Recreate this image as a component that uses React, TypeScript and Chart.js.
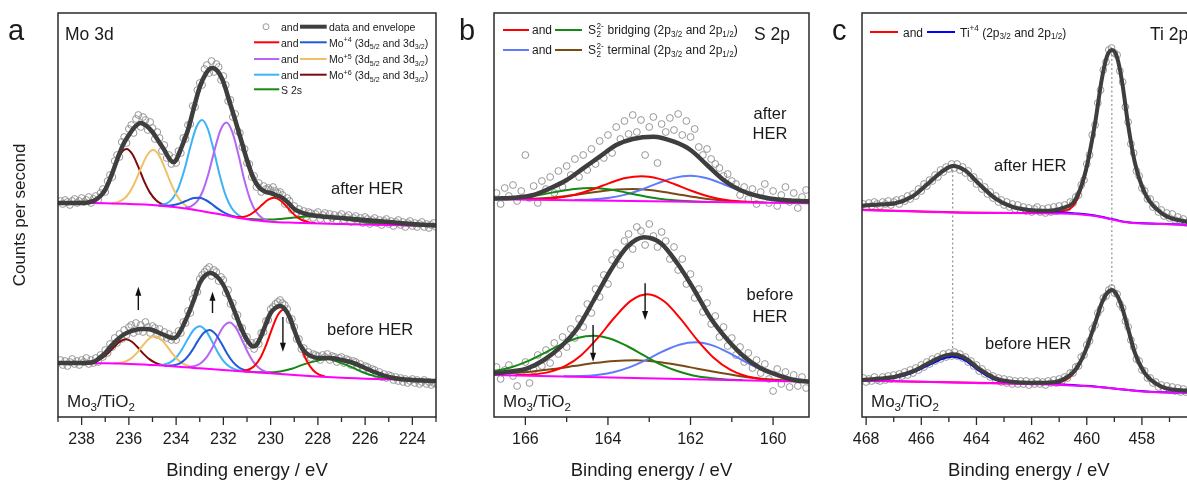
import React, { useEffect, useRef } from "react";
import { Chart, registerables } from "chart.js";

Chart.register(...registerables);

const FONT = '"Liberation Sans", Arial, Helvetica, sans-serif';
const INK = "#1b1b1b";
const ENV = "#3e3e3e";
const BG = "#ff00ff";
const DOT = "#8c8c8c";

/* ================= Panel a : Mo 3d ================= */
const aXMin = 223;
const aXMax = 239;
const aTicks = [239, 238, 237, 236, 235, 234, 233, 232, 231, 230, 229, 228, 227, 226, 225, 224, 223];
const aTickLabels = [238, 236, 234, 232, 230, 228, 226, 224];

const aDataStart = 238.9;
const aDataStep = 0.1;
const aAfterData = [
  216, 213, 217, 215, 212, 216, 218, 214, 216, 219,
  215, 217, 220, 214, 218, 221, 217, 224, 228, 225,
  236, 242, 240, 256, 262, 260, 275, 280, 274, 288,
  292, 284, 298, 302, 290, 300, 297, 287, 295, 289,
  278, 285, 279, 266, 272, 259, 262, 253, 259, 254,
  266, 264, 279, 278, 292, 293, 311, 310, 327, 334,
  332, 348, 352, 344, 356, 345, 353, 350, 337, 341,
  332, 316, 317, 300, 303, 286, 284, 270, 268, 254,
  253, 240, 241, 230, 234, 225, 231, 228, 229, 227,
  230, 226, 224, 225, 222, 213, 219, 216, 207, 211,
  204, 208, 201, 206, 200, 205, 204, 199, 203, 205,
  198, 202, 204, 197, 203, 199, 202, 196, 201, 203,
  197, 200, 202, 195, 199, 201, 196, 199, 194, 200,
  198, 193, 197, 199, 194, 197, 192, 196, 198, 193,
  196, 191, 195, 197, 192, 195, 190, 194, 196, 191,
  194, 190, 193, 195, 190, 193, 189, 192, 194, 190,
];
const aBeforeData = [
  57, 52, 56, 51, 55, 58, 53, 56, 52, 57,
  55, 59, 53, 57, 54, 59, 55, 62, 60, 67,
  64, 73, 70, 79, 74, 83, 78, 87, 82, 90,
  92, 84, 94, 86, 92, 85, 95, 90, 84, 91,
  89, 82, 88, 80, 85, 79, 83, 77, 81, 77,
  86, 84, 95, 94, 106, 104, 118, 124, 125, 138,
  142, 145, 148, 150, 141, 147, 145, 136, 140, 137,
  124, 127, 113, 114, 101, 102, 90, 89, 79, 80,
  72, 74, 68, 75, 73, 84, 85, 96, 97, 108,
  110, 113, 115, 117, 114, 112, 108, 97, 98, 90,
  78, 78, 68, 69, 62, 65, 59, 63, 62, 61,
  57, 62, 60, 63, 57, 61, 60, 55, 59, 60,
  54, 58, 57, 52, 56, 55, 50, 53, 48, 51,
  50, 45, 48, 47, 42, 45, 40, 43, 39, 42,
  41, 37, 40, 36, 39, 35, 38, 34, 36, 38,
  34, 37, 33, 35, 37, 33, 35, 32, 34, 33,
];

const aAfterEnvelope = [
  [239, 214], [238.5, 214], [238, 214], [237.5, 216], [237.2, 221], [237, 227], [236.75, 241],
  [236.5, 257], [236.25, 272], [236, 282], [235.75, 290], [235.5, 294], [235.25, 291], [235, 285],
  [234.75, 276], [234.5, 267], [234.25, 257], [234.1, 255], [234, 257], [233.75, 271], [233.5, 287],
  [233.25, 309], [233, 330], [232.75, 343], [232.5, 349], [232.25, 346], [232, 335], [231.75, 316],
  [231.5, 297], [231.25, 277], [231, 257], [230.75, 240], [230.5, 230], [230.25, 225.5], [230, 224],
  [229.75, 221.5], [229.5, 219], [229.25, 214], [229, 208], [228.75, 205], [228.5, 203], [228, 201],
  [227, 199], [226, 197], [225, 195], [224, 193], [223, 191.5],
];
const aBeforeEnvelope = [
  [239, 54], [238, 54], [237.5, 55], [237.25, 59], [237, 64], [236.75, 71], [236.5, 77], [236.25, 82],
  [236, 85], [235.75, 87], [235.5, 88], [235.25, 88], [235, 87], [234.75, 84.5], [234.5, 82],
  [234.25, 79.5], [234.1, 79], [233.95, 81], [233.75, 89], [233.5, 102], [233.25, 117], [233, 134],
  [232.75, 142], [232.55, 144], [232.25, 140], [232, 132], [231.75, 119], [231.5, 104], [231.25, 89],
  [231, 77], [230.75, 70.5], [230.6, 72], [230.4, 81], [230.2, 93], [230, 104], [229.8, 109],
  [229.6, 111], [229.4, 108], [229.2, 100], [229, 87], [228.75, 72], [228.5, 64], [228.25, 60.5],
  [228, 59], [227.5, 59], [227, 57], [226.5, 54], [226, 49], [225.5, 44], [225, 40], [224.5, 38],
  [224, 37], [223, 36],
];
const aAfterBackground = [
  [239, 214.3], [237, 213.7], [235, 212], [234, 209.7], [233, 206.3], [232, 202], [231, 197.7],
  [230, 195.3], [229, 194.3], [227, 193], [225, 192], [223, 191],
];
const aBeforeBackground = [
  [239, 53.7], [237, 53.7], [235, 52], [233, 48.7], [231, 45.3], [229, 42], [227, 39.3], [225, 37.7], [223, 36.3],
];

const aPeakStep = 0.25;
const aS2sStep = 0.5;
// after HER fitted components: first energy, then values every step
const aAfterMo4d52Start = 231.6;
const aAfterMo4d52 = [200.5, 200.0, 200.3, 202.6, 206.9, 212.5, 217.3, 219.2, 216.8, 211.1, 204.6, 199.4, 196.2, 194.6, 193.9];
const aAfterMo4d32Start = 234.75;
const aAfterMo4d32 = [211.5, 211.3, 211.5, 212.5, 214.4, 216.9, 219.0, 219.3, 217.0, 213.1, 208.6, 204.8, 202.1, 200.3, 198.9];
const aAfterMo5d52Start = 233.62;
const aAfterMo5d52 = [209.3, 210.7, 215.3, 226.0, 244.2, 267.2, 287.0, 294.4, 284.9, 262.9, 237.7, 217.7, 205.4, 199.3, 196.5];
const aAfterMo5d32Start = 236.72;
const aAfterMo5d32 = [213.7, 214.8, 217.9, 224.6, 235.8, 249.8, 262.0, 266.9, 261.4, 248.4, 233.6, 221.6, 213.9, 209.7, 207.5];
const aAfterMo6d52Start = 234.65;
const aAfterMo6d52 = [212.1, 213.6, 218.5, 229.2, 247.2, 269.9, 289.5, 296.9, 287.5, 265.9, 241.3, 221.4, 209.0, 202.4, 199.2];
const aAfterMo6d32Start = 237.85;
const aAfterMo6d32 = [214.5, 215.7, 218.9, 225.7, 236.9, 250.9, 263.1, 267.9, 262.7, 250.1, 235.7, 224.1, 216.8, 212.9, 211.0];
const aAfterS2sStart = 231;
const aAfterS2s = [198.1, 197.5, 197.4, 198.3, 199.4, 200.5, 200.7, 199.8, 198.1, 196.3, 194.6, 193.3, 192.4, 191.9, 191.6, 191.3, 191.0];
// before HER fitted components
const aBeforeMo4d52Start = 231.2;
const aBeforeMo4d52 = [46.2, 47.3, 50.8, 58.5, 71.4, 87.7, 101.8, 107.2, 100.9, 86.0, 68.9, 55.2, 46.7, 42.4, 40.6];
const aBeforeMo4d32Start = 234.34;
const aBeforeMo4d32 = [51.3, 51.8, 53.7, 58.2, 65.9, 75.6, 84.0, 87.0, 83.1, 73.9, 63.3, 54.8, 49.5, 46.8, 45.4];
const aBeforeMo5d52Start = 233.49;
const aBeforeMo5d52 = [50.0, 50.7, 53.2, 58.8, 68.3, 80.2, 90.6, 94.6, 89.8, 78.5, 65.7, 55.4, 49.0, 45.6, 44.1];
const aBeforeMo5d32Start = 236.64;
const aBeforeMo5d32 = [53.5, 54.0, 55.5, 58.9, 64.7, 72.1, 78.5, 80.8, 77.8, 70.8, 62.9, 56.5, 52.5, 50.3, 49.2];
const aBeforeMo6d52Start = 234.75;
const aBeforeMo6d52 = [52.0, 52.6, 54.7, 59.5, 67.8, 78.2, 87.3, 90.7, 86.5, 76.6, 65.3, 56.2, 50.5, 47.6, 46.1];
const aBeforeMo6d32Start = 237.87;
const aBeforeMo6d32 = [53.9, 54.5, 56.0, 59.1, 64.0, 70.3, 75.7, 77.8, 75.3, 69.5, 62.9, 57.6, 54.1, 52.1, 51.1];
const aBeforeS2sStart = 231.1;
const aBeforeS2s = [45.5, 44.8, 44.7, 45.6, 48.3, 52.6, 55.9, 58.1, 54.6, 50.2, 44.8, 40.9, 38.7, 37.7, 37.3, 36.7, 36.4];

// arrows: energy, tail value, head value
const aArrows = [[235.6, 107, 130.3], [232.46, 104, 125.3], [229.48, 100, 65.3]];

/* ================= Panel b : S 2p ================= */
const bXMin = 159.13;
const bXMax = 166.76;
const bTicks = [166, 165, 164, 163, 162, 161, 160];
const bTickLabels = [166, 164, 162, 160];

const bDataStart = 166.7;
const bDataStep = 0.1;
const bAfterData = [
  224, 213, 229, 221, 232, 216, 226, 262, 219, 231,
  214, 236, 228, 240, 224, 246, 230, 251, 242, 258,
  240, 262, 247, 268, 253, 276, 259, 282, 264, 290,
  278, 296, 283, 302, 285, 297, 262, 290, 300, 254,
  293, 285, 299, 287, 303, 282, 296, 280, 288, 270,
  262, 268, 258, 253, 249, 241, 243, 236, 233, 222,
  230, 218, 228, 213, 225, 233, 214, 226, 211, 222,
  230, 215, 224, 209, 220, 227,
];
const bBeforeData = [
  50, 38, 47, 52, 41, 31, 45, 55, 34, 47,
  62, 51, 67, 54, 74, 63, 80, 70, 88, 79,
  98, 90, 113, 104, 128, 120, 142, 133, 157, 164,
  152, 176, 183, 168, 190, 186, 172, 193, 181, 170,
  185, 176, 158, 170, 147, 158, 133, 143, 119, 128,
  105, 114, 93, 101, 80, 90, 71, 79, 62, 70,
  55, 64, 49, 57, 44, 53, 38, 26, 48, 33,
  45, 30, 42, 31, 40, 29,
];
const bAfterEnvelope = [
  [166.76, 218.5], [166.2, 219.6], [165.8, 222], [165.4, 228.7], [165.0, 237], [164.6, 248.7],
  [164.2, 260.3], [163.8, 272], [163.4, 278], [162.9, 280.3], [162.4, 275.3], [162.0, 267],
  [161.6, 252], [161.2, 237], [160.8, 227], [160.3, 220.3], [159.75, 217], [159.35, 216], [159.13, 215.7],
];
const bBeforeEnvelope = [
  [166.76, 43.7], [166.35, 45.5], [165.95, 48.7], [165.55, 57], [165.14, 70.3], [164.74, 88.7],
  [164.34, 117], [163.93, 147], [163.53, 170.3], [163.13, 179.7], [162.72, 173.7], [162.32, 153.7],
  [161.91, 127], [161.51, 98.7], [161.1, 77], [160.7, 60.3], [160.3, 48.7], [159.89, 42],
  [159.49, 37], [159.13, 35.3],
];
const bAfterBackground = [[166.76, 217.7], [159.13, 213.7]];
const bBeforeBackground = [[166.76, 42], [159.13, 35.3]];

const bPeakStep = 0.4;
const bWideStep = 0.5;
const bAfterBridging32Start = 165.98;
const bAfterBridging32 = [217.6, 218.0, 219.4, 222.5, 227.5, 233.6, 238.9, 240.8, 238.4, 232.7, 226.2, 220.8, 217.3, 215.5, 214.7];
const bAfterBridging12Start = 167.2;
const bAfterBridging12 = [218.0, 218.2, 218.8, 220.2, 222.6, 225.6, 228.1, 229.0, 227.7, 224.8, 221.4, 218.5, 216.7, 215.7, 215.1];
const bAfterTerminal32Start = 164.8;
const bAfterTerminal32 = [217.0, 217.5, 218.9, 222.1, 227.3, 233.6, 239.1, 241.2, 238.7, 232.8, 226.0, 220.4, 216.8, 215.0, 214.0];
const bAfterTerminal12Start = 166.6;
const bAfterTerminal12 = [217.8, 217.9, 218.3, 219.3, 221.0, 223.2, 225.6, 227.4, 228.0, 227.0, 224.8, 222.0, 219.3, 217.2, 215.8, 215.0, 214.5];
const bBeforeBridging32Start = 166.24;
const bBeforeBridging32 = [42.0, 42.5, 44.9, 50.8, 62.1, 79.3, 99.5, 116.4, 122.7, 115.7, 98.1, 77.2, 59.3, 47.3, 40.7, 37.6, 36.3];
const bBeforeBridging12Start = 167.14;
const bBeforeBridging12 = [44.0, 45.9, 49.7, 55.8, 63.9, 72.4, 79.0, 81.3, 78.3, 71.0, 61.8, 52.9, 46.2, 41.6, 39.1, 37.6, 36.9];
const bBeforeTerminal32Start = 165.07;
const bBeforeTerminal32 = [40.8, 41.0, 42.1, 44.8, 49.9, 57.2, 65.6, 72.3, 74.7, 71.6, 64.2, 55.1, 47.1, 41.3, 37.9, 36.1];
const bBeforeTerminal12Start = 167.33;
const bBeforeTerminal12 = [43.0, 43.1, 43.9, 45.5, 47.9, 50.9, 54.0, 56.1, 56.7, 55.2, 52.2, 48.3, 44.4, 41.1, 38.6, 37.0, 36.0];

const bArrows = [[163.1, 133.7, 97], [164.36, 92, 55.3]];

/* ================= Panel c : Ti 2p ================= */
const cXMin = 456.05;
const cXMax = 468.15;
const cTicks = [468, 467, 466, 465, 464, 463, 462, 461, 460, 459, 458, 457];
const cTickLabels = [468, 466, 464, 462, 460, 458];

const cDataStart = 468.1;
const cDataStep = 0.1;
const cAfterData = [
  213, 210, 214, 211, 215, 213, 211, 215, 213, 216,
  212, 215, 217, 213, 218, 216, 221, 218, 223, 221,
  228, 226, 233, 231, 237, 236, 242, 240, 247, 245,
  250, 248, 253, 249, 253, 247, 250, 244, 246, 239,
  240, 233, 235, 228, 230, 223, 225, 219, 221, 215,
  217, 212, 215, 210, 213, 208, 212, 207, 210, 206,
  209, 205, 208, 210, 205, 208, 204, 209, 205, 210,
  206, 211, 207, 212, 209, 215, 214, 220, 222, 232,
  237, 253, 262, 282, 292, 314, 327, 347, 355, 367,
  369, 364, 362, 346, 335, 310, 295, 273, 264, 246,
  241, 229, 226, 218, 218, 210, 212, 205, 207, 201,
  204, 199, 203, 197, 200, 196, 198, 194,
];
const cBeforeData = [
  39, 35, 38, 36, 40, 37, 36, 40, 37, 41,
  38, 42, 39, 43, 41, 45, 42, 47, 44, 49,
  47, 52, 50, 55, 53, 58, 56, 60, 58, 63,
  60, 64, 61, 65, 61, 63, 59, 60, 55, 56,
  51, 52, 46, 48, 43, 44, 40, 41, 37, 39,
  35, 38, 34, 37, 33, 36, 33, 36, 33, 36,
  32, 35, 33, 36, 33, 35, 32, 36, 34, 37,
  34, 38, 36, 40, 39, 44, 44, 50, 51, 60,
  62, 72, 76, 88, 92, 104, 108, 119, 121, 127,
  129, 124, 123, 113, 109, 96, 90, 77, 70, 58,
  56, 47, 46, 39, 39, 34, 35, 30, 32, 28,
  31, 27, 30, 26, 29, 25, 28, 25,
];
const cAfterEnvelope = [
  [468.15, 211.3], [467.5, 212.5], [466.95, 213.7], [466.34, 220.3], [465.74, 233.7], [465.25, 245.3],
  [464.86, 251], [464.4, 246.3], [463.93, 233.7], [463.32, 218.7], [462.72, 210.3], [462.11, 207],
  [461.51, 206.3], [460.9, 208.7], [460.42, 217], [460.06, 243.7], [459.7, 293.7], [459.46, 337],
  [459.27, 360.3], [459.09, 367], [458.91, 360.3], [458.73, 337], [458.49, 290.3], [458.25, 253.7],
  [457.89, 223.7], [457.28, 203.7], [456.38, 195.3], [456.05, 194.5],
];
const cAfterBackground = [
  [468.15, 207], [464.5, 204.3], [460.9, 203.5], [460.4, 203], [459.7, 201], [459.0, 197], [458.5, 194.5], [457.3, 193], [456.05, 191.8],
];
const cAfterTi2p12 = [
  [468.15, 211], [467.5, 212.2], [466.95, 213.4], [466.34, 220], [465.74, 233.3], [465.25, 245], [464.86, 250.6],
  [464.4, 246], [463.93, 233.3], [463.32, 218.3], [462.72, 209.8], [462.11, 206.3], [461.51, 205.2], [460.9, 204.5],
  [460.4, 203.6], [459.7, 201.5], [459.0, 197.4], [458.5, 194.8], [457.3, 193.2], [456.05, 191.9],
];
const cAfterTi2p32 = [
  [468.15, 207.2], [464.5, 204.5], [462.5, 204], [461.51, 204.3], [460.9, 205.8], [460.42, 213.8], [460.06, 241],
  [459.7, 292], [459.46, 336], [459.27, 359.5], [459.09, 366.3], [458.91, 359.5], [458.73, 336.3], [458.49, 289.8],
  [458.25, 253.2], [457.89, 223.3], [457.28, 203.3], [456.38, 195], [456.05, 194.2],
];
const cBeforeEnvelope = [
  [468.15, 37], [467.5, 38.5], [466.95, 40.3], [466.34, 45.3], [465.74, 53.7], [465.25, 60.3], [464.86, 62.7],
  [464.4, 58.7], [463.93, 48.7], [463.32, 38.7], [462.72, 35.3], [462.11, 34.3], [461.51, 34.3], [460.9, 37],
  [460.42, 47], [460.06, 65.3], [459.7, 93.7], [459.46, 113.7], [459.27, 123.7], [459.09, 127], [458.91, 122],
  [458.73, 110.3], [458.49, 87], [458.25, 63.7], [457.89, 43.7], [457.28, 30.3], [456.38, 26.3], [456.05, 25.8],
];
const cBeforeBackground = [
  [468.15, 36.3], [464.5, 34.3], [460.9, 32], [459.7, 30.3], [458.73, 27.7], [457.89, 25.3], [456.05, 24.2],
];
const cBeforeTi2p12 = [
  [468.15, 36.5], [467.5, 37.6], [466.95, 39.3], [466.34, 44], [465.74, 51.7], [465.25, 58], [464.86, 60.3],
  [464.4, 56.5], [463.93, 46.7], [463.32, 37.2], [462.72, 34.5], [462.11, 33.9], [461.51, 33.4], [460.9, 32.6],
  [460.3, 31.6], [459.7, 30.6], [459.1, 28.8], [458.5, 27.1], [457.5, 25.1], [456.05, 24.3],
];
const cBeforeTi2p32 = [
  [468.15, 36.4], [464.5, 34.4], [462.5, 33.6], [461.51, 33.4], [460.9, 35.3], [460.42, 45.5], [460.06, 64.3],
  [459.7, 93], [459.46, 113], [459.27, 123], [459.09, 126.3], [458.91, 121.3], [458.73, 109.6], [458.49, 86.3],
  [458.25, 63], [457.89, 43.2], [457.28, 29.8], [456.38, 25.8], [456.05, 25.3],
];
const cGuideEnergy = [464.86, 459.09];
const cGuideTop = [251, 367];
const cGuideBottom = [62.7, 127];

/* ================= helpers ================= */
type P = { x: number; y: number };
const seq = (start: number, step: number, ys: number[]): P[] =>
  ys.map((y, i) => ({ x: Math.round((start - i * step) * 1000) / 1000, y }));
const pairs = (a: number[][]): P[] => a.map(([x, y]) => ({ x, y }));

const lineDs = (data: P[], color: string, width: number, order: number, extra: any = {}) => ({
  data,
  borderColor: color,
  backgroundColor: color,
  borderWidth: width,
  showLine: true,
  pointRadius: 0,
  pointHoverRadius: 0,
  pointHitRadius: 0,
  cubicInterpolationMode: "monotone",
  fill: false,
  order,
  ...extra,
});
const dotDs = (data: P[]) => ({
  data,
  showLine: false,
  pointRadius: 3.4,
  pointHoverRadius: 3.4,
  pointBorderWidth: 0.9,
  pointBorderColor: DOT,
  pointBackgroundColor: "rgba(255,255,255,0)",
  order: 9,
});

type Seg = { t: string; k?: "sub" | "sup" | "stack"; b?: string };

function rich(ctx: CanvasRenderingContext2D, segs: Seg[], x: number, y: number, size: number) {
  ctx.save();
  ctx.fillStyle = INK;
  ctx.textAlign = "left";
  ctx.textBaseline = "alphabetic";
  let cx = x;
  const small = size * 0.68;
  for (const s of segs) {
    if (!s.k) {
      ctx.font = `${size}px ${FONT}`;
      ctx.fillText(s.t, cx, y);
      cx += ctx.measureText(s.t).width;
    } else {
      ctx.font = `${small}px ${FONT}`;
      if (s.k === "sub") {
        ctx.fillText(s.t, cx, y + size * 0.24);
        cx += ctx.measureText(s.t).width;
      } else if (s.k === "sup") {
        ctx.fillText(s.t, cx, y - size * 0.42);
        cx += ctx.measureText(s.t).width;
      } else {
        ctx.fillText(s.t, cx + 0.5, y - size * 0.42);
        ctx.fillText(s.b || "", cx + 0.5, y + size * 0.24);
        cx += Math.max(ctx.measureText(s.t).width, ctx.measureText(s.b || "").width) + 1;
      }
    }
  }
  ctx.restore();
}
const txt = (ctx: CanvasRenderingContext2D, s: string, x: number, y: number, size: number, align: CanvasTextAlign = "left") =>
  rich(ctx, [{ t: s }], align === "center" ? x - (ctx.font = `${size}px ${FONT}`, ctx.measureText(s).width / 2) : x, y, size);

function swatch(ctx: CanvasRenderingContext2D, x0: number, x1: number, y: number, color: string, w = 2) {
  ctx.save();
  ctx.strokeStyle = color;
  ctx.lineWidth = w;
  ctx.beginPath();
  ctx.moveTo(x0, y);
  ctx.lineTo(x1, y);
  ctx.stroke();
  ctx.restore();
}

function frameAndTicks(chart: any, ticks: number[], majors: number[]) {
  const { ctx, chartArea } = chart;
  const { left, right, top, bottom } = chartArea;
  const xs = chart.scales.x;
  ctx.save();
  ctx.strokeStyle = "#2a2a2a";
  ctx.lineWidth = 1.5;
  ctx.strokeRect(left, top, right - left, bottom - top);
  ctx.lineWidth = 1.3;
  for (const v of ticks) {
    const px = xs.getPixelForValue(v);
    const len = majors.includes(v) ? 8 : 5;
    ctx.beginPath();
    ctx.moveTo(px, bottom);
    ctx.lineTo(px, bottom + len);
    ctx.stroke();
  }
  ctx.restore();
}

function drawArrows(chart: any, list: number[][]) {
  const { ctx } = chart;
  const xs = chart.scales.x;
  const ys = chart.scales.y;
  ctx.save();
  ctx.strokeStyle = "#111";
  ctx.fillStyle = "#111";
  ctx.lineWidth = 1.4;
  for (const [e, v0, v1] of list) {
    const x = xs.getPixelForValue(e);
    const y0 = ys.getPixelForValue(v0);
    const y1 = ys.getPixelForValue(v1);
    const dir = y1 > y0 ? 1 : -1;
    ctx.beginPath();
    ctx.moveTo(x, y0);
    ctx.lineTo(x, y1 - dir * 6);
    ctx.stroke();
    ctx.beginPath();
    ctx.moveTo(x, y1);
    ctx.lineTo(x - 3, y1 - dir * 9);
    ctx.lineTo(x + 3, y1 - dir * 9);
    ctx.closePath();
    ctx.fill();
  }
  ctx.restore();
}

function xScale(min: number, max: number, ticks: number[], labels: number[]) {
  return {
    type: "linear",
    min,
    max,
    reverse: true,
    afterBuildTicks: (s: any) => {
      s.ticks = ticks.map((v) => ({ value: v }));
    },
    afterFit: (s: any) => {
      s.height = 64;
    },
    grid: { display: false, drawTicks: false },
    border: { display: false },
    ticks: {
      autoSkip: false,
      maxRotation: 0,
      minRotation: 0,
      padding: 12.5,
      color: INK,
      font: { family: FONT, size: 16 },
      callback: (v: number) => (labels.includes(v) ? String(v) : ""),
    },
    title: {
      display: true,
      text: "Binding energy / eV",
      color: INK,
      font: { family: FONT, size: 18.5 },
      padding: { top: 0, bottom: -1 },
    },
  };
}

function options(xs: any, ys: any, padding: any) {
  return {
    animation: false,
    responsive: false,
    devicePixelRatio: 1,
    events: [],
    layout: { padding },
    plugins: { legend: { display: false }, tooltip: { enabled: false } },
    scales: { x: xs, y: ys },
  };
}

const hiddenY = { display: false, min: 0, max: 404 };
const moTi: Seg[] = [{ t: "Mo" }, { t: "3", k: "sub" }, { t: "/TiO" }, { t: "2", k: "sub" }];

/* ================= chart configs ================= */
const COL = {
  red: "#ff0000",
  blue: "#1f5bd8",
  purple: "#b566f3",
  yellow: "#efc066",
  sky: "#3db3f7",
  maroon: "#7e0b0b",
  green: "#148a14",
  bBlue: "#5f7cfb",
  brown: "#7a4a14",
  tiBlue: "#0000ff",
};

function configA() {
  const datasets = [
    lineDs(pairs(aAfterEnvelope), ENV, 4.5, 0),
    lineDs(pairs(aBeforeEnvelope), ENV, 4.5, 0),
    lineDs(pairs(aAfterBackground), BG, 2, 1),
    lineDs(pairs(aBeforeBackground), BG, 2, 1),
    lineDs(seq(aAfterMo4d52Start, aPeakStep, aAfterMo4d52), COL.red, 2, 2),
    lineDs(seq(aAfterMo4d32Start, aPeakStep, aAfterMo4d32), COL.blue, 2, 2),
    lineDs(seq(aAfterMo5d52Start, aPeakStep, aAfterMo5d52), COL.purple, 2, 2),
    lineDs(seq(aAfterMo5d32Start, aPeakStep, aAfterMo5d32), COL.yellow, 2, 2),
    lineDs(seq(aAfterMo6d52Start, aPeakStep, aAfterMo6d52), COL.sky, 2, 2),
    lineDs(seq(aAfterMo6d32Start, aPeakStep, aAfterMo6d32), COL.maroon, 2, 2),
    lineDs(seq(aAfterS2sStart, aS2sStep, aAfterS2s), COL.green, 2, 2),
    lineDs(seq(aBeforeMo4d52Start, aPeakStep, aBeforeMo4d52), COL.red, 2, 2),
    lineDs(seq(aBeforeMo4d32Start, aPeakStep, aBeforeMo4d32), COL.blue, 2, 2),
    lineDs(seq(aBeforeMo5d52Start, aPeakStep, aBeforeMo5d52), COL.purple, 2, 2),
    lineDs(seq(aBeforeMo5d32Start, aPeakStep, aBeforeMo5d32), COL.yellow, 2, 2),
    lineDs(seq(aBeforeMo6d52Start, aPeakStep, aBeforeMo6d52), COL.sky, 2, 2),
    lineDs(seq(aBeforeMo6d32Start, aPeakStep, aBeforeMo6d32), COL.maroon, 2, 2),
    lineDs(seq(aBeforeS2sStart, aS2sStep, aBeforeS2s), COL.green, 2, 2),
    dotDs(seq(aDataStart, aDataStep, aAfterData)),
    dotDs(seq(aDataStart, aDataStep, aBeforeData)),
  ];
  const yA = {
    min: 0,
    max: 404,
    afterFit: (s: any) => {
      s.width = 58;
    },
    grid: { display: false, drawTicks: false },
    border: { display: false },
    ticks: { display: false },
    title: {
      display: true,
      text: "Counts per second",
      color: INK,
      font: { family: FONT, size: 17 },
      padding: { top: 10, bottom: 0 },
    },
  };
  const plugin = {
    id: "decorA",
    afterDraw(chart: any) {
      const ctx = chart.ctx as CanvasRenderingContext2D;
      frameAndTicks(chart, aTicks, aTickLabels);
      drawArrows(chart, aArrows);
      txt(ctx, "a", 8, 40, 29);
      txt(ctx, "Mo 3d", 65, 40, 17.5);
      txt(ctx, "after HER", 331, 193.5, 16.5);
      txt(ctx, "before HER", 327, 335, 16.5);
      rich(ctx, moTi, 67, 406.5, 17);
      const fs = 10.5;
      // legend
      ctx.save();
      ctx.strokeStyle = DOT;
      ctx.lineWidth = 0.9;
      ctx.beginPath();
      ctx.arc(266, 26.7, 3, 0, Math.PI * 2);
      ctx.stroke();
      ctx.restore();
      const rows: [number, number, string, string, Seg[]][] = [
        [42.3, 46.7, COL.red, COL.blue, [{ t: "Mo" }, { t: "+4", k: "sup" }, { t: " (3d" }, { t: "5/2", k: "sub" }, { t: " and 3d" }, { t: "3/2", k: "sub" }, { t: ")" }]],
        [59, 63.3, COL.purple, COL.yellow, [{ t: "Mo" }, { t: "+5", k: "sup" }, { t: " (3d" }, { t: "5/2", k: "sub" }, { t: " and 3d" }, { t: "3/2", k: "sub" }, { t: ")" }]],
        [74.7, 79, COL.sky, COL.maroon, [{ t: "Mo" }, { t: "+6", k: "sup" }, { t: " (3d" }, { t: "5/2", k: "sub" }, { t: " and 3d" }, { t: "3/2", k: "sub" }, { t: ")" }]],
      ];
      txt(ctx, "and", 281, 30.7, fs);
      swatch(ctx, 300, 326.7, 26.7, ENV, 4);
      txt(ctx, "data and envelope", 329, 30.7, fs);
      for (const [ly, by, c1, c2, segs] of rows) {
        swatch(ctx, 254, 279.3, ly, c1, 2);
        txt(ctx, "and", 281, by, fs);
        swatch(ctx, 300, 326.7, ly, c2, 2);
        rich(ctx, segs, 329, by, fs);
      }
      swatch(ctx, 254, 279.3, 89.3, COL.green, 2);
      txt(ctx, "S 2s", 281, 94, fs);
    },
  };
  return {
    type: "scatter",
    data: { datasets },
    options: options(xScale(aXMin, aXMax, aTicks, aTickLabels), yA, { left: 0, right: 751, top: 13, bottom: 0 }),
    plugins: [plugin],
  };
}

function configB() {
  const datasets = [
    lineDs(pairs(bAfterEnvelope), ENV, 4.5, 0),
    lineDs(pairs(bBeforeEnvelope), ENV, 4.5, 0),
    lineDs(pairs(bAfterBackground), BG, 2, 1),
    lineDs(pairs(bBeforeBackground), BG, 2, 1),
    lineDs(seq(bAfterBridging32Start, bPeakStep, bAfterBridging32), COL.red, 2, 2),
    lineDs(seq(bAfterBridging12Start, bPeakStep, bAfterBridging12), COL.green, 2, 2),
    lineDs(seq(bAfterTerminal32Start, bPeakStep, bAfterTerminal32), COL.bBlue, 2, 2),
    lineDs(seq(bAfterTerminal12Start, bPeakStep, bAfterTerminal12), COL.brown, 2, 2),
    lineDs(seq(bBeforeBridging32Start, bPeakStep, bBeforeBridging32), COL.red, 2, 2),
    lineDs(seq(bBeforeBridging12Start, bPeakStep, bBeforeBridging12), COL.green, 2, 2),
    lineDs(seq(bBeforeTerminal32Start, bPeakStep, bBeforeTerminal32), COL.bBlue, 2, 2),
    lineDs(seq(bBeforeTerminal12Start, bWideStep, bBeforeTerminal12), COL.brown, 2, 2),
    dotDs(seq(bDataStart, bDataStep, bAfterData)),
    dotDs(seq(bDataStart, bDataStep, bBeforeData)),
  ];
  const plugin = {
    id: "decorB",
    afterDraw(chart: any) {
      const ctx = chart.ctx as CanvasRenderingContext2D;
      frameAndTicks(chart, bTicks, bTickLabels);
      drawArrows(chart, bArrows);
      txt(ctx, "b", 459, 40, 29);
      txt(ctx, "S 2p", 754, 40, 17.5);
      txt(ctx, "after", 770, 118.5, 16.5, "center");
      txt(ctx, "HER", 770, 138.5, 16.5, "center");
      txt(ctx, "before", 770, 300, 16.5, "center");
      txt(ctx, "HER", 770, 321.5, 16.5, "center");
      rich(ctx, moTi, 503, 406.5, 17);
      const fs = 12;
      const rows: [number, number, string, string, string][] = [
        [30, 33.7, COL.red, COL.green, " bridging (2p"],
        [50, 54, COL.bBlue, COL.brown, " terminal (2p"],
      ];
      for (const [ly, by, c1, c2, word] of rows) {
        swatch(ctx, 503, 529, ly, c1, 2);
        txt(ctx, "and", 532, by, fs);
        swatch(ctx, 555, 582, ly, c2, 2);
        rich(ctx, [{ t: "S" }, { t: "2-", k: "stack", b: "2" }, { t: word }, { t: "3/2", k: "sub" }, { t: " and 2p" }, { t: "1/2", k: "sub" }, { t: ")" }], 588, by, fs);
      }
    },
  };
  return {
    type: "scatter",
    data: { datasets },
    options: options(xScale(bXMin, bXMax, bTicks, bTickLabels), hiddenY, { left: 494, right: 378, top: 13, bottom: 0 }),
    plugins: [plugin],
  };
}

function configC() {
  const guides = cGuideEnergy.map((e, i) =>
    lineDs([{ x: e, y: cGuideTop[i] }, { x: e, y: cGuideBottom[i] }], "#7a7a7a", 1, 3, { borderDash: [2, 2.5], cubicInterpolationMode: "default" })
  );
  const datasets = [
    lineDs(pairs(cAfterEnvelope), ENV, 4, 0),
    lineDs(pairs(cBeforeEnvelope), ENV, 4, 0),
    lineDs(pairs(cAfterBackground), BG, 2, 1),
    lineDs(pairs(cBeforeBackground), BG, 2, 1),
    lineDs(pairs(cAfterTi2p12), COL.tiBlue, 2, 2),
    lineDs(pairs(cAfterTi2p32), COL.red, 2, 2),
    lineDs(pairs(cBeforeTi2p12), COL.tiBlue, 2, 2),
    lineDs(pairs(cBeforeTi2p32), COL.red, 2, 2),
    ...guides,
    dotDs(seq(cDataStart, cDataStep, cAfterData)),
    dotDs(seq(cDataStart, cDataStep, cBeforeData)),
  ];
  const plugin = {
    id: "decorC",
    afterDraw(chart: any) {
      const ctx = chart.ctx as CanvasRenderingContext2D;
      frameAndTicks(chart, cTicks, cTickLabels);
      txt(ctx, "c", 832, 40, 29);
      txt(ctx, "Ti 2p", 1150, 39.5, 17.5);
      txt(ctx, "after HER", 994, 170.5, 16.5);
      txt(ctx, "before HER", 985, 348.5, 16.5);
      rich(ctx, moTi, 871, 406.5, 17);
      const fs = 12;
      swatch(ctx, 870, 898, 32, COL.red, 2);
      txt(ctx, "and", 903, 36.5, fs);
      swatch(ctx, 927, 955, 32, COL.tiBlue, 2);
      rich(ctx, [{ t: "Ti" }, { t: "+4", k: "sup" }, { t: " (2p" }, { t: "3/2", k: "sub" }, { t: " and 2p" }, { t: "1/2", k: "sub" }, { t: ")" }], 960, 36.5, fs);
    },
  };
  return {
    type: "scatter",
    data: { datasets },
    options: options(xScale(cXMin, cXMax, cTicks, cTickLabels), hiddenY, { left: 862, right: 4, top: 13, bottom: 0 }),
    plugins: [plugin],
  };
}

export default function App() {
  const refA = useRef<HTMLCanvasElement>(null);
  const refB = useRef<HTMLCanvasElement>(null);
  const refC = useRef<HTMLCanvasElement>(null);
  useEffect(() => {
    const charts = [
      new Chart(refA.current as HTMLCanvasElement, configA() as any),
      new Chart(refB.current as HTMLCanvasElement, configB() as any),
      new Chart(refC.current as HTMLCanvasElement, configC() as any),
    ];
    return () => charts.forEach((c) => c.destroy());
  }, []);
  const cs: React.CSSProperties = { position: "absolute", left: 0, top: 0 };
  return (
    <div style={{ position: "fixed", left: 0, top: 0, width: 1187, height: 481, overflow: "hidden", background: "#fff" }}>
      <canvas ref={refA} width={1187} height={481} style={{ ...cs, width: 1187, height: 481 }} />
      <canvas ref={refB} width={1187} height={481} style={{ ...cs, width: 1187, height: 481 }} />
      <canvas ref={refC} width={1200} height={481} style={{ ...cs, width: 1200, height: 481 }} />
    </div>
  );
}
